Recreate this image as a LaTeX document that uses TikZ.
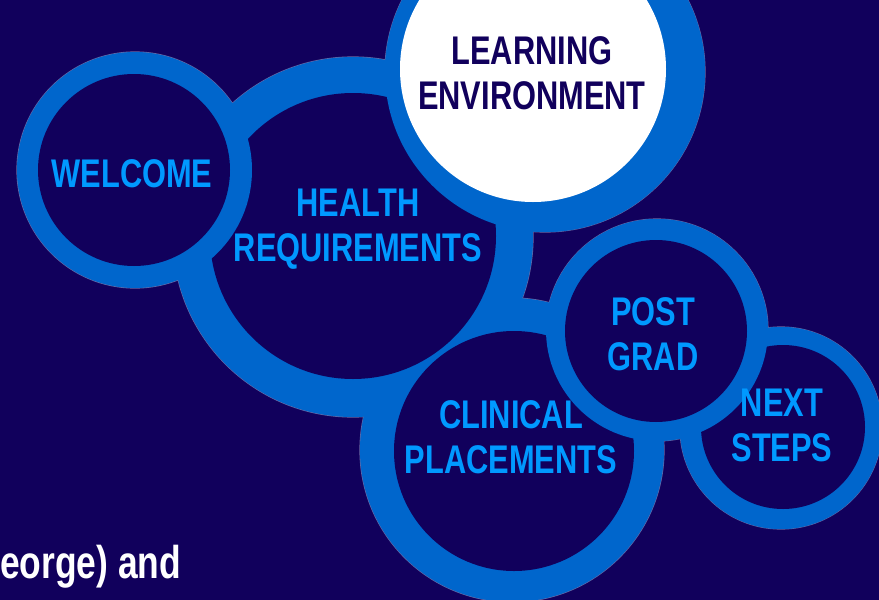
\documentclass[tikz,border=0pt]{standalone}
\usepackage{fontspec}
\newfontfamily\topicfont{Liberation Sans}[FakeStretch=0.77]
\definecolor{navy}{RGB}{17,0,92}
\definecolor{ringblue}{RGB}{0,102,204}
\definecolor{topicblue}{RGB}{0,153,255}
\definecolor{rimgray}{RGB}{105,105,165}
\begin{document}
\begin{tikzpicture}[x=1pt,y=-1pt]
\tikzset{outerdisk/.style={fill=ringblue}}
\tikzset{rim/.style={draw=rimgray, line width=1.2pt}}
\tikzset{innerdisk/.style={fill=navy}}
\tikzset{topic/.style={text=topicblue, font=\topicfont\bfseries\fontsize{40}{45}\selectfont, align=center, inner sep=0pt}}
\useasboundingbox (0,0) rectangle (879,600);
\fill[navy] (0,0) rectangle (879,600);
\clip (0,0) rectangle (879,600);
\draw[rim] (135,170) circle (118) (353,237) circle (180) (545,72) circle (160)
  (512,450) circle (152) (657,330) circle (111) (781,428) circle (101);
\fill[outerdisk] (135,170) circle (118) (353,237) circle (180) (545,72) circle (160)
  (512,450) circle (152) (657,330) circle (111) (781,428) circle (101);
\fill[innerdisk] (353,236) circle (143);
\fill[innerdisk] (514,451) circle (120);
\fill[outerdisk] (135,170) circle (117);
\fill[innerdisk] (134,170) circle (96);
\fill[outerdisk] (545,72) circle (160);
\fill[white] (533,69) circle (133);
\fill[outerdisk] (781,428) circle (101);
\fill[innerdisk] (783,427) circle (82);
\fill[outerdisk] (657,330) circle (111);
\fill[innerdisk] (656,331) circle (91);
\node[topic] (welcome) at (132,174) {WELCOME};
\node[topic] (health) at (358,229) {HEALTH\\REQUIREMENTS};
\node[topic, text=navy] (learning) at (532,73) {LEARNING\\ENVIRONMENT};
\node[topic] (clinical) at (511,437) {CLINICAL\\PLACEMENTS};
\node[topic] (postgrad) at (653,334) {POST\\GRAD};
\node[topic] (nextsteps) at (782,425) {NEXT\\STEPS};
\node[text=white, font=\topicfont\bfseries\fontsize{46}{52}\selectfont, anchor=base west, inner sep=0pt] (george) at (0,578) {eorge) and};
\end{tikzpicture}
\end{document}
